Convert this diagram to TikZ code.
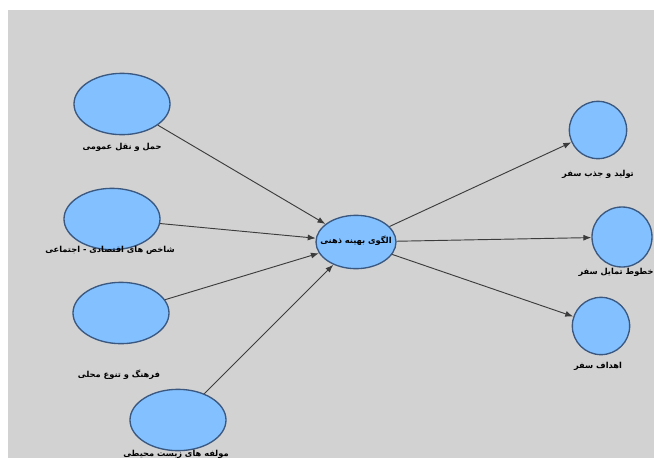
\documentclass[tikz,border=0pt]{standalone}
\usepackage{fontspec}
\usetikzlibrary{shapes.geometric,arrows.meta}
\newfontfamily\arabicfont[Script=Arabic]{DejaVu Sans}
\TeXXeTstate=1
\definecolor{bggray}{RGB}{210,210,210}
\definecolor{nodefill}{RGB}{130,192,255}
\definecolor{nodeedge}{RGB}{58,88,128}
\definecolor{linkgray}{RGB}{60,60,60}
\tikzset{
  lv/.style={ellipse,draw=nodeedge,fill=nodefill,line width=1pt,inner sep=0pt,minimum width=72pt,minimum height=46pt},
  mv/.style={circle,draw=nodeedge,fill=nodefill,line width=1pt,inner sep=0pt,minimum size=43pt},
  lbl/.style={font=\arabicfont\bfseries\fontsize{6.2}{7}\selectfont,inner sep=0pt},
  link/.style={draw=linkgray,line width=0.7pt,-{Latex[length=6pt,width=4.5pt]}}
}
\begin{document}
\begin{tikzpicture}[x=0.75pt,y=-0.75pt]
\useasboundingbox (0,0) rectangle (654,458);\clip (0,0) rectangle (654,458);
\fill[bggray] (8,10) rectangle (654,458);
% exogenous
\node[lv] (haml) at (122,104){};\node[lbl] (hamllbl) at (122,147){\beginR حمل و نقل عمومی\endR};
\node[lv] (eqt) at (112,219){};\node[lbl] (eqtlbl) at (110,250){\beginR شاخص های اقتصادی - اجتماعی\endR};
\node[lv] (farh) at (121,313){};\node[lbl] (farhlbl) at (119,375){\beginR فرهنگ و تنوع محلی\endR};
\node[lv] (zist) at (178,420){};\node[lbl] (zistlbl) at (176,454){\beginR مولفه های زیست محیطی\endR};
% central
\node[lv,minimum width=60pt,minimum height=40pt] (olgo) at (356,242){};\node[lbl] (olgolbl) at (356,241){\beginR الگوی بهینه ذهنی\endR};
% endogenous
\node[mv] (tolid) at (598,130){};\node[lbl] (tolidlbl) at (598,174){\beginR تولید و جذب سفر\endR};
\node[mv,minimum size=45pt] (khot) at (622,237){};\node[lbl] (khotlbl) at (616,272){\beginR خطوط تمایل سفر\endR};
\node[mv] (ahd) at (601,326){};\node[lbl] (ahdlbl) at (598,366){\beginR اهداف سفر\endR};
\draw[link] (haml)--(olgo);\draw[link] (eqt)--(olgo);\draw[link] (farh)--(olgo);\draw[link] (zist)--(olgo);
\draw[link] (olgo)--(tolid);\draw[link] (olgo)--(khot);\draw[link] (olgo)--(ahd);
\end{tikzpicture}
\end{document}
